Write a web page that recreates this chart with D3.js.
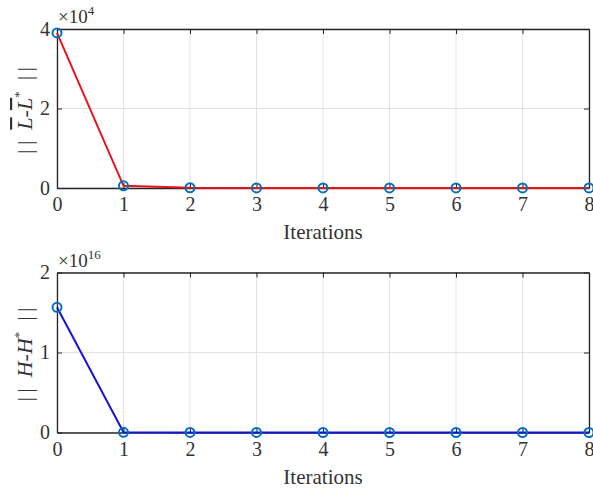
<!DOCTYPE html>
<html lang="en"><head><meta charset="utf-8">
<title>Convergence</title>
<script src="https://cdn.jsdelivr.net/npm/d3@7"></script>
<style>
  body { margin: 0; background: #fff; }
  text { font-family: "Liberation Serif", "DejaVu Serif", serif; fill: #333; }
</style>
</head>
<body>
<script>
    // iterations and errors
    var iterations = [0, 1, 2, 3, 4, 5, 6, 7, 8];
    var errL = [3.9e4, 550, 60, 30, 20, 15, 10, 10, 10];
    var errH = [1.565e16, 2e13, 5e12, 2e12, 1e12, 1e12, 1e12, 1e12, 1e12];
    var xTicks = [0, 1, 2, 3, 4, 5, 6, 7, 8];
    var yTicksL = [0, 2e4, 4e4];
    var yTicksH = [0, 1e16, 2e16];

    var width = 593, height = 492;
    var left = 57, right = 589;

    var svg = d3.select("body").append("svg")
        .attr("width", width)
        .attr("height", height);

    svg.append("rect").attr("width", width).attr("height", height).attr("fill", "#fff");

    var x = d3.scaleLinear().domain([0, 8]).range([left, right]);

    function panel(top, bottom, data, yTicks, yMax, exp, lineColor, labelParts) {
        var y = d3.scaleLinear().domain([0, yMax]).range([bottom, top]);
        var g = svg.append("g");

        // grid
        g.selectAll(".gx").data(xTicks).enter().append("line")
            .attr("x1", function (d) { return x(d); }).attr("x2", function (d) { return x(d); })
            .attr("y1", top).attr("y2", bottom)
            .attr("stroke", "#e3e3e3").attr("stroke-width", 1);
        g.selectAll(".gy").data(yTicks).enter().append("line")
            .attr("y1", function (d) { return y(d); }).attr("y2", function (d) { return y(d); })
            .attr("x1", left).attr("x2", right)
            .attr("stroke", "#e3e3e3").attr("stroke-width", 1);

        // axes (ticks pointing inside, mirrored on top / right)
        var fmt = function (d) { return d3.format("d")(d / Math.pow(10, exp)); };
        g.append("g").attr("transform", "translate(0," + bottom + ")")
            .call(d3.axisBottom(x).tickValues(xTicks).tickSizeInner(-5).tickSizeOuter(0).tickPadding(9));
        g.append("g").attr("transform", "translate(0," + top + ")")
            .call(d3.axisTop(x).tickValues(xTicks).tickSizeInner(-5).tickSizeOuter(0).tickFormat(""));
        g.append("g").attr("transform", "translate(" + left + ",0)")
            .call(d3.axisLeft(y).tickValues(yTicks).tickSizeInner(-5).tickSizeOuter(0).tickPadding(7).tickFormat(fmt));
        g.append("g").attr("transform", "translate(" + right + ",0)")
            .call(d3.axisRight(y).tickValues(yTicks).tickSizeInner(-5).tickSizeOuter(0).tickFormat(""));

        g.selectAll(".domain").attr("stroke", "#262626").attr("stroke-width", 1.3);
        g.selectAll(".tick line").attr("stroke", "#262626").attr("stroke-width", 1);
        g.selectAll(".tick text").attr("font-size", 20).attr("fill", "#333")
            .style("font-family", "'Liberation Serif', serif");

        // exponent label
        var ex = g.append("text").attr("x", left + 1).attr("y", top - 6).attr("font-size", 19);
        ex.append("tspan").text("\u00d710");
        ex.append("tspan").attr("font-size", 13).attr("dy", -8).text(exp);

        // x label
        g.append("text").attr("x", (left + right) / 2).attr("y", bottom + 51)
            .attr("text-anchor", "middle").attr("font-size", 21).text("Iterations");

        // y label
        var yl = g.append("text")
            .attr("transform", "translate(32," + ((top + bottom) / 2 + 2) + ") rotate(-90)")
            .attr("text-anchor", "middle").attr("font-size", 22);
        labelParts.forEach(function (p) {
            var t = yl.append("tspan").text(p.t);
            if (p.i) t.attr("font-style", "italic");
            if (p.o) t.style("text-decoration", "overline");
            if (p.s) t.attr("font-size", 13).attr("dy", -9);
            if (p.d) t.attr("dy", p.d);
        });

        // line
        var line = d3.line()
            .x(function (d, i) { return x(iterations[i]); })
            .y(function (d) { return y(d); });
        g.append("path").datum(data)
            .attr("d", line).attr("fill", "none")
            .attr("stroke", lineColor).attr("stroke-width", 2);

        g.selectAll(".pt").data(data).enter().append("circle")
            .attr("cx", function (d, i) { return x(iterations[i]); })
            .attr("cy", function (d) { return y(d); })
            .attr("r", 4.5)
            .attr("fill", "none")
            .attr("stroke", "#0072BD").attr("stroke-width", 2);
    }

    panel(29, 188, errL, yTicksL, 4e4, 4, "#e8141c", [
        { t: "|\u2009|\u2002" }, { t: "L", i: true, o: true }, { t: "-" }, { t: "L", i: true, o: true },
        { t: "*", s: true }, { t: "\u2002|\u2009|", d: 9 }
    ]);
    panel(272.5, 432.5, errH, yTicksH, 2e16, 16, "#1414d8", [
        { t: "|\u2009|\u2002" }, { t: "H", i: true }, { t: "-" }, { t: "H", i: true },
        { t: "*", s: true }, { t: "\u2002|\u2009|", d: 9 }
    ]);
</script>
</body></html>
